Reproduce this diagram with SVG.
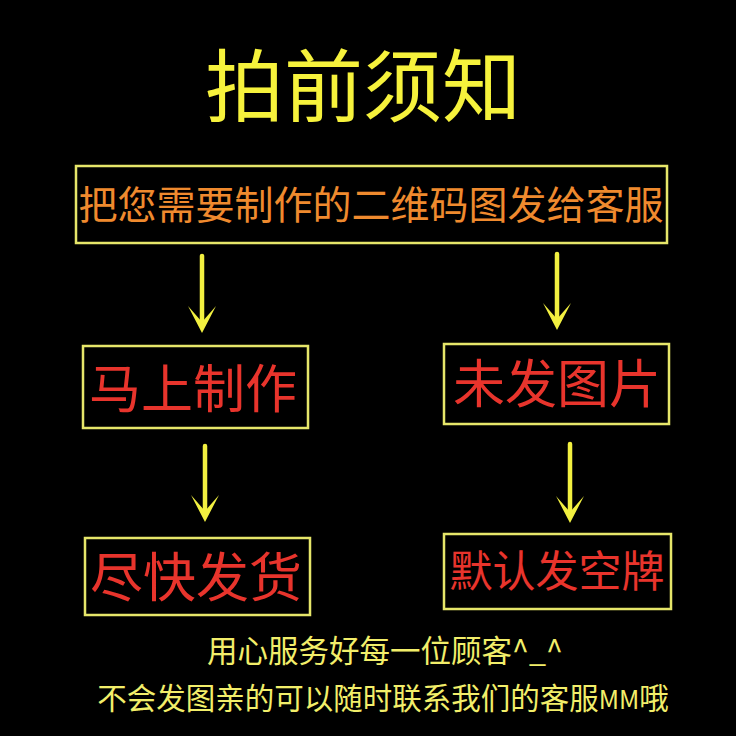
<svg xmlns="http://www.w3.org/2000/svg" width="736" height="736" viewBox="0 0 736 736">
<defs>
<style>
.box{fill:none;stroke:#e6e66a;stroke-width:2.5}
.cjk{font-family:"Noto Sans CJK SC","Noto Sans",sans-serif;text-anchor:middle}
.title{fill:#f6f23c;font-size:79px}
.orange{fill:#ef8a2e;font-size:39px}
.red{fill:#e8342c}
.note{fill:#f2ee6a}
.shaft{stroke:#f2f040;stroke-width:4.5;stroke-linecap:round;fill:none}
.head{fill:#f2f040}
</style>
</defs>
<rect width="736" height="736" fill="#000"/>
<text class="cjk title" x="363" y="116">拍前须知</text>
<g id="n-send">
<rect class="box" x="76" y="166" width="591" height="77"/>
<text class="cjk orange" x="371" y="219">把您需要制作的二维码图发给客服</text>
</g>
<g id="n-make">
<rect class="box" x="83" y="346" width="225" height="82"/>
<text class="cjk red" x="193" y="408" font-size="52">马上制作</text>
</g>
<g id="n-nopic">
<rect class="box" x="444" y="344" width="225" height="80"/>
<text class="cjk red" x="557" y="403" font-size="52">未发图片</text>
</g>
<g id="n-ship">
<rect class="box" x="85" y="538" width="225" height="77"/>
<text class="cjk red" x="196" y="597" font-size="53">尽快发货</text>
</g>
<g id="n-blank">
<rect class="box" x="444" y="534" width="227" height="75"/>
<text class="cjk red" x="557" y="587" font-size="43">默认发空牌</text>
</g>
<g id="connectors">
<line class="shaft" x1="202" y1="256" x2="202" y2="322"/>
<path class="head" d="M202,333 L188,306 L202,322 L216,306 Z"/>
<line class="shaft" x1="557" y1="254" x2="557" y2="319"/>
<path class="head" d="M557,330 L543,303 L557,319 L571,303 Z"/>
<line class="shaft" x1="205" y1="446" x2="205" y2="511"/>
<path class="head" d="M205,522 L191,495 L205,511 L219,495 Z"/>
<line class="shaft" x1="570" y1="444" x2="570" y2="512"/>
<path class="head" d="M570,523 L556,496 L570,512 L584,496 Z"/>
</g>
<text class="cjk note" x="385" y="662" font-size="30.5">用心服务好每一位顾客^_^</text>
<text class="cjk note" x="383" y="709" font-size="29.5">不会发图亲的可以随时联系我们的客服<tspan font-size="25">MM</tspan>哦</text>
</svg>
